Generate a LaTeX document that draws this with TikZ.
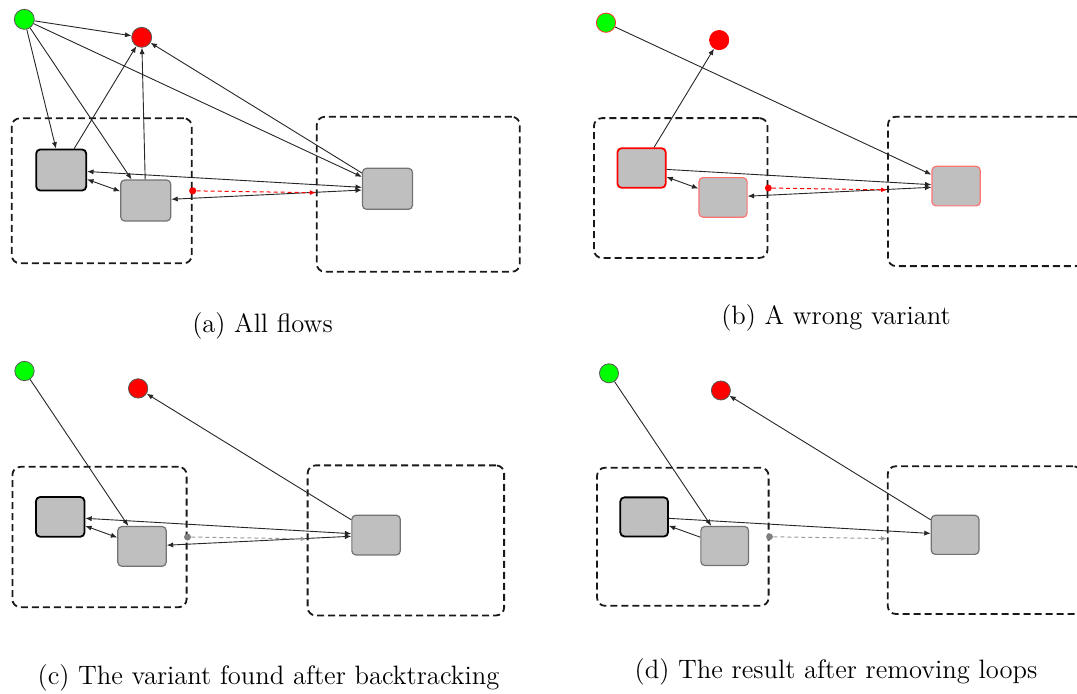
\documentclass[tikz,border=0pt]{standalone}
\usetikzlibrary{arrows.meta}
\tikzset{
  tip/.tip={Latex[length=3.2pt,width=2.6pt]},
  flow/.style={draw=black!85, line width=0.45pt, -tip},
  biflow/.style={draw=black!85, line width=0.45pt, tip-tip},
  cluster/.style={draw=black!90, line width=0.9pt, dash pattern=on 3.5pt off 2pt,
    rounded corners=4pt, inner sep=0pt},
  task/.style={draw=black!55, fill=black!25, line width=0.6pt, rounded corners=2pt,
    minimum width=25pt, minimum height=20.5pt, inner sep=0pt},
  maintask/.style={task, draw=black, line width=0.9pt},
  start/.style={circle, draw=black!65, fill=green, line width=0.4pt, minimum size=10pt, inner sep=0pt},
  stop/.style={circle, draw=black!65, fill=red, line width=0.4pt, minimum size=10pt, inner sep=0pt},
  port/.style={circle, fill=#1, minimum size=3.6pt, inner sep=0pt},
  link/.style={draw=#1, line width=0.5pt, dash pattern=on 2pt off 1.5pt,
    -{Latex[length=3pt,width=2.4pt]}},
  caption/.style={anchor=base, font=\fontsize{13.3}{16}\selectfont, inner sep=0pt},
}
\begin{document}
\begin{tikzpicture}[x=0.5pt, y=-0.5pt]
\useasboundingbox (0,0) rectangle (1077,693);
\clip (0,0) rectangle (1077,693);

% ---------- (a) all flows ----------
\begin{scope}[shift={(24.3,19.3)}]
  \node[cluster, minimum width=90pt, minimum height=72.5pt] (aL) at (77.5,171.5) {};
  \node[cluster, minimum width=101.5pt, minimum height=77.5pt] (aR) at (394,175) {};
  \node[start] (ag) at (0,0) {};
  \node[stop] (ar) at (117.4,18) {};
  \node[maintask] (a1) at (36.9,150.7) {};
  \node[task] (a2) at (121.4,181.2) {};
  \node[task] (a3) at (363.2,169.5) {};
  \node[port=red] (ad) at (aL.east) {};
  \draw[flow] (ag) -- (ar);
  \draw[flow] (ag) -- (a1);
  \draw[flow] (ag) -- (a2);
  \draw[flow] (ag) -- (a3);
  \draw[flow] (a1) -- (ar);
  \draw[flow] (a2) -- (ar);
  \draw[flow] (a3) -- (ar);
  \draw[biflow] (a1) -- (a2);
  \draw[biflow] (a1) -- (a3);
  \draw[biflow] (a2) -- (a3);
  \draw[link=red] (ad) -- (aR);
\end{scope}

% ---------- (b) a wrong variant ----------
\begin{scope}[shift={(606,22.7)}, scale=0.964, transform shape]
  \node[cluster, minimum width=90pt, minimum height=72.5pt] (bL) at (77.5,171.5) {};
  \node[cluster, minimum width=101.5pt, minimum height=77.5pt] (bR) at (394,175) {};
  \node[start, draw=red!80] (bg) at (0,0) {};
  \node[stop, draw=red] (br) at (117.4,18) {};
  \node[maintask, draw=red] (b1) at (36.9,150.7) {};
  \node[task, draw=red!55] (b2) at (121.4,181.2) {};
  \node[task, draw=red!55] (b3) at (363.2,169.5) {};
  \node[port=red] (bd) at (bL.east) {};
  \draw[flow] (bg) -- (b3);
  \draw[flow] (b1) -- (br);
  \draw[flow] (b1) -- (b3);
  \draw[biflow] (b1) -- (b2);
  \draw[biflow] (b2) -- (b3);
  \draw[link=red] (bd) -- (bR);
\end{scope}

% ---------- (c) variant after backtracking ----------
\begin{scope}[shift={(24.5,371)}, scale=0.968, transform shape]
  \node[cluster, minimum width=90pt, minimum height=72.5pt] (cL) at (77.5,171.5) {};
  \node[cluster, minimum width=101.5pt, minimum height=77.5pt] (cR) at (394,175) {};
  \node[start] (cg) at (0,0) {};
  \node[stop] (cr) at (117.4,18) {};
  \node[maintask] (c1) at (36.9,150.7) {};
  \node[task] (c2) at (121.4,181.2) {};
  \node[task] (c3) at (363.2,169.5) {};
  \node[port=black!50] (cd) at (cL.east) {};
  \draw[flow] (cg) -- (c2);
  \draw[flow] (c3) -- (cr);
  \draw[biflow] (c1) -- (c2);
  \draw[biflow] (c1) -- (c3);
  \draw[biflow] (c2) -- (c3);
  \draw[link=black!40] (cd) -- (cR);
\end{scope}

% ---------- (d) after removing loops ----------
\begin{scope}[shift={(609,373.3)}, scale=0.953, transform shape]
  \node[cluster, minimum width=90pt, minimum height=72.5pt] (dL) at (77.5,171.5) {};
  \node[cluster, minimum width=101.5pt, minimum height=77.5pt] (dR) at (394,175) {};
  \node[start] (dg) at (0,0) {};
  \node[stop] (dr) at (117.4,18) {};
  \node[maintask] (d1) at (36.9,150.7) {};
  \node[task] (d2) at (121.4,181.2) {};
  \node[task] (d3) at (363.2,169.5) {};
  \node[port=black!50] (dd) at (dL.east) {};
  \draw[flow] (dg) -- (d2);
  \draw[flow] (d3) -- (dr);
  \draw[flow] (d2) -- (d1);
  \draw[flow] (d1) -- (d3);
  \draw[link=black!40] (dd) -- (dR);
\end{scope}

% ---------- captions ----------
\node[caption] (capa) at (262.5,332) {(a) All flows};
\node[caption] (capb) at (836,324) {(b) A wrong variant};
\node[caption] (capc) at (268.5,684) {(c) The variant found after backtracking};
\node[caption] (capd) at (836,678.3) {(d) The result after removing loops};
\end{tikzpicture}
\end{document}
